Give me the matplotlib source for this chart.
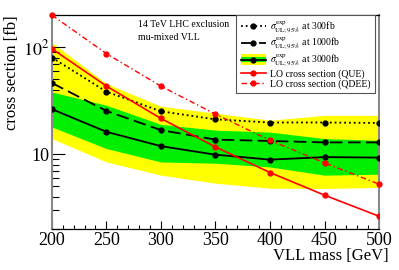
import matplotlib
matplotlib.use("Agg")
import matplotlib.pyplot as plt
from matplotlib.patches import Rectangle
from matplotlib.lines import Line2D
from matplotlib.legend_handler import HandlerBase
from matplotlib.ticker import FixedLocator, NullFormatter, MultipleLocator

plt.rcParams['font.family'] = ['Liberation Serif', 'DejaVu Serif']
plt.rcParams['mathtext.fontset'] = 'stix'

mass = [200, 250, 300, 350, 400, 450, 500]
ul_300 = [80.2, 38.5, 25.2, 21.2, 19.8, 19.8, 19.6]
ul_1000 = [46.4, 25.4, 16.8, 13.7, 13.3, 12.9, 12.9]
ul_3000 = [26.4, 16.2, 11.9, 9.9, 8.9, 9.4, 9.3]
band2_hi = [110.7, 45.8, 28.1, 24.2, 20.8, 23.1, 23.1]
band1_hi = [38.2, 28.7, 19.0, 16.8, 16.1, 14.0, 13.5]
band1_lo = [18.0, 11.3, 8.47, 8.24, 7.6, 6.37, 6.5]
band2_lo = [14.0, 8.47, 6.37, 5.36, 4.81, 4.78, 4.89]
lo_que = [97, 43.4, 21.6, 11.7, 6.74, 4.14, 2.63]
lo_qdee = [200, 87.3, 43.3, 23.7, 13.5, 8.3, 5.25]

fig = plt.figure(figsize=(3.99, 2.70), dpi=100)
ax = fig.add_axes([0.130, 0.152, 0.820, 0.792])

ax.fill_between(mass, band2_lo, band2_hi, color='#ffff00', lw=0, zorder=1)
ax.fill_between(mass, band1_lo, band1_hi, color='#00ee00', lw=0, zorder=2)

l300, = ax.plot(mass, ul_300, color='black', ls=':', lw=1.3, marker='o', ms=3.5, zorder=4)
l1000, = ax.plot(mass, ul_1000, color='black', ls=(0, (7, 3)), lw=1.3, marker='o', ms=3.5, zorder=4)
l3000, = ax.plot(mass, ul_3000, color='black', ls='-', lw=1.3, marker='o', ms=3.5, zorder=4)
lque, = ax.plot(mass, lo_que, color='#ff0000', ls='-', lw=1.2, marker='o', ms=3.5, zorder=5)
lqdee, = ax.plot(mass, lo_qdee, color='#ff0000', ls=(0, (4, 2, 1, 2)), lw=1.0, marker='o', ms=3.5, zorder=5, clip_on=False)

ax.set_yscale('log')
ax.set_xlim(200, 500)
ax.set_ylim(2, 200)

ax.set_yticks([10, 100])
ax.set_yticklabels(['10', r'$10^2$'])
ax.yaxis.set_minor_locator(FixedLocator([2, 3, 4, 5, 6, 7, 8, 9, 20, 30, 40, 50, 60, 70, 80, 90, 200]))
ax.yaxis.set_minor_formatter(NullFormatter())
ax.xaxis.set_major_locator(MultipleLocator(50))
ax.xaxis.set_minor_locator(MultipleLocator(10))
ax.tick_params(which='both', direction='in', top=False, right=False, labelsize=13)
ax.tick_params(which='major', length=6, width=0.8)
ax.tick_params(which='minor', length=3, width=0.8)
ax.tick_params(axis='y', which='major', length=9, pad=2)
ax.tick_params(axis='y', which='minor', length=5)
ax.tick_params(axis='x', which='major', pad=2)

for s in ['left', 'right']:
    ax.spines[s].set_color('#888888')
    ax.spines[s].set_linewidth(1.5)
for s in ['top', 'bottom']:
    ax.spines[s].set_color('black')
    ax.spines[s].set_linewidth(0.9)

ax.set_xlabel('VLL mass [GeV]', fontsize=12)
ax.xaxis.set_label_coords(1.03, -0.125)
ax.xaxis.label.set_ha('right')
ax.xaxis.label.set_va('center')
ax.set_ylabel('cross section [fb]', fontsize=12, loc='top', labelpad=2)

ax.text(0.263, 0.975, '14 TeV LHC exclusion\nmu-mixed VLL', transform=ax.transAxes,
        fontsize=7, va='top', ha='left', linespacing=1.45)


class BandHandler(HandlerBase):
    def create_artists(self, legend, orig_handle, xdescent, ydescent, width, height, fontsize, trans):
        y2 = Rectangle((-xdescent, -ydescent - height * 0.3), width, height * 1.6,
                       facecolor='#ffff00', edgecolor='none', transform=trans)
        y1 = Rectangle((-xdescent, -ydescent + height * 0.1), width, height * 0.8,
                       facecolor='#00ee00', edgecolor='none', transform=trans)
        ln = Line2D([-xdescent, -xdescent + width], [-ydescent + height / 2] * 2,
                    color='black', lw=1.3, transform=trans)
        mk = Line2D([-xdescent + width / 2], [-ydescent + height / 2], color='black',
                    marker='o', ms=3.5, transform=trans)
        return [y2, y1, ln, mk]


band_handle = object()
handles = [l300, l1000, band_handle, lque, lqdee]
labels = [r'$\sigma^{\rm exp}_{\rm UL;95\%}$ at 300fb',
          r'$\sigma^{\rm exp}_{\rm UL;95\%}$ at 1000fb',
          r'$\sigma^{\rm exp}_{\rm UL;95\%}$ at 3000fb',
          'LO cross section (QUE)',
          'LO cross section (QDEE)']
leg = ax.legend(handles, labels, handler_map={band_handle.__class__: BandHandler()},
                loc='upper right', bbox_to_anchor=(0.988, 1.0), fontsize=7, numpoints=1,
                frameon=True, fancybox=False, edgecolor='#555555', framealpha=1,
                handlelength=2.6, borderpad=0.45, labelspacing=0.05, handletextpad=0.45,
                borderaxespad=0.0)
leg.get_frame().set_linewidth(0.8)
leg.set_zorder(10)

fig.savefig('out.png', dpi=100)
